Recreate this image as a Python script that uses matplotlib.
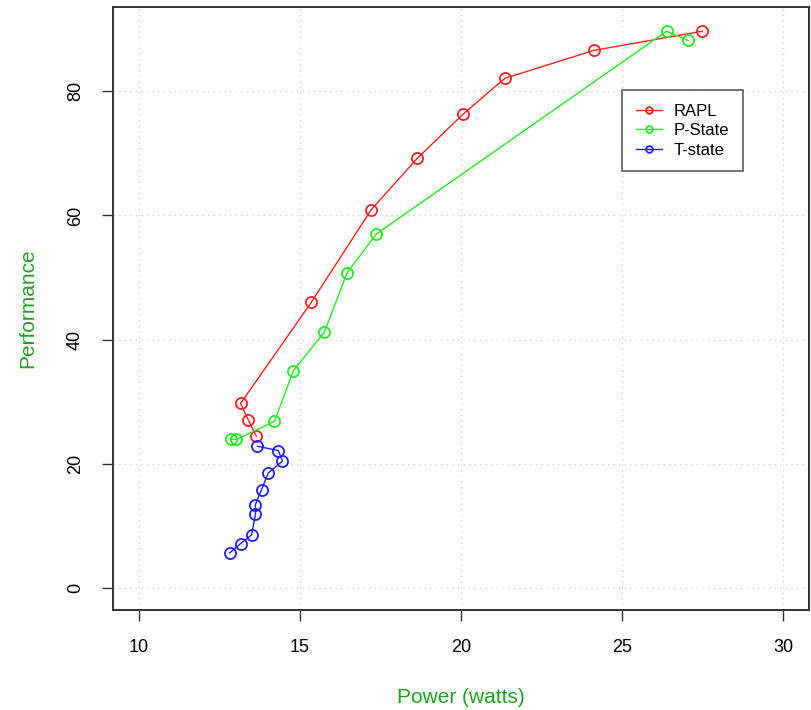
import matplotlib
matplotlib.use("Agg")
import matplotlib.pyplot as plt

plt.rcParams['font.family'] = ['Liberation Sans', 'DejaVu Sans']

# power (watts) vs performance for each throttling mechanism
rapl_power = [27.49, 24.12, 21.36, 20.06, 18.64, 17.21, 15.36, 13.16, 13.40, 13.65]
rapl_perf = [89.7, 86.6, 82.1, 76.3, 69.2, 60.9, 46.05, 29.7, 27.0, 24.4]

pstate_power = [12.85, 13.03, 14.21, 14.80, 15.76, 16.47, 17.37, 26.38, 27.06]
pstate_perf = [23.9, 23.9, 26.8, 35.0, 41.2, 50.8, 57.0, 89.7, 88.2]

tstate_power = [13.68, 14.33, 14.46, 14.02, 13.81, 13.62, 13.62, 13.50, 13.16, 12.82]
tstate_perf = [22.8, 22.1, 20.4, 18.5, 15.8, 13.4, 11.8, 8.5, 7.1, 5.6]

xticks = [10, 15, 20, 25, 30]
yticks = [0, 20, 40, 60, 80]

fig = plt.figure(figsize=(8.12, 7.10), dpi=100)
ax = fig.add_axes([113 / 812, 100 / 710, 696 / 812, 603 / 710])

series = [
    (rapl_power, rapl_perf, "#ff2020", "RAPL"),
    (pstate_power, pstate_perf, "#22ee22", "P-State"),
    (tstate_power, tstate_perf, "#2020ff", "T-state"),
]
for xs, ys, col, name in series:
    ax.plot(xs, ys, color=col, lw=1.0, marker='o', ms=8, mfc='none',
            mec=col, mew=1.3, label=name)

ax.set_xlim(9.2, 30.8)
ax.set_ylim(-3.6, 93.6)
ax.set_xticks(xticks)
ax.set_yticks(yticks)
ax.grid(True, color='#d3d3d3', ls=(0, (1, 3)), lw=1.0)
ax.set_axisbelow(True)

for sp in ax.spines.values():
    sp.set_linewidth(1.4)
    sp.set_color('#333333')
ax.tick_params(direction='out', length=8, width=1.0, color='#333333',
               labelsize=13, pad=13)
for lab in ax.get_yticklabels():
    lab.set_rotation(90)
    lab.set_va('center')

ax.set_xlabel("Power (watts)", color='#22a022', fontsize=15, labelpad=23)
ax.set_ylabel("Performance", color='#22a022', fontsize=15, labelpad=21)

leg = ax.legend(loc='upper left', bbox_to_anchor=(0.7317, 0.862),
                borderaxespad=0, fontsize=12, frameon=True, fancybox=False,
                edgecolor='#333333', handlelength=1.6, markerscale=0.6,
                borderpad=0.8, labelspacing=0.28, handletextpad=0.7)
leg.get_frame().set_linewidth(1.2)

fig.savefig("out.png", dpi=100)
